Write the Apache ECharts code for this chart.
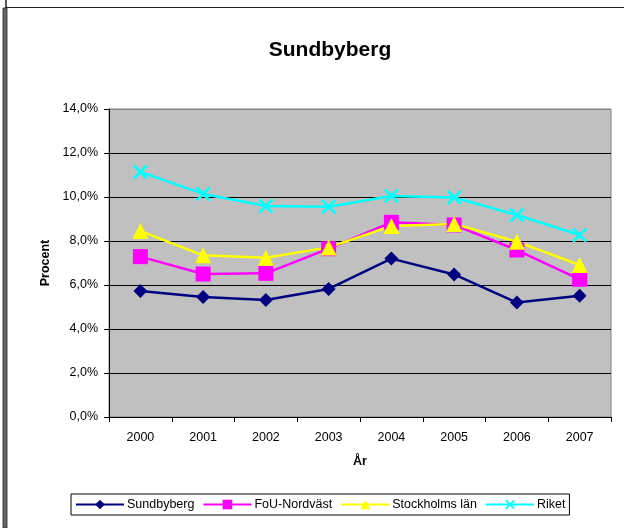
<!DOCTYPE html>
<html><head><meta charset="utf-8">
<script src="https://cdn.jsdelivr.net/npm/echarts@6/dist/echarts.min.js"></script>
<style>html,body{margin:0;padding:0;background:#fff}#c{width:624px;height:528px}</style>
</head><body><div id="c"></div>
<script>
const years = ['2000','2001','2002','2003','2004','2005','2006','2007'];
const sundbyberg = [5.73, 5.45, 5.32, 5.82, 7.2, 6.48, 5.2, 5.51];
const fouNordvast = [7.29, 6.5, 6.53, 7.65, 8.85, 8.73, 7.59, 6.26];
const stockholmsLan = [8.45, 7.35, 7.24, 7.71, 8.68, 8.77, 7.97, 6.91];
const riket = [11.14, 10.14, 9.59, 9.56, 10.05, 9.98, 9.18, 8.27];

const F = 'Liberation Sans, Arial, sans-serif';
const xPath = 'path://M0 1.5 L1.5 0 L6 4.5 L10.5 0 L12 1.5 L7.5 6 L12 10.5 L10.5 12 L6 7.5 L1.5 12 L0 10.5 L4.5 6 Z';
const chart = echarts.init(document.getElementById('c'));
function mk(name, data, color, symbol, size) {
  return {name, type:'line', data, color, symbol, symbolSize:size, showAllSymbol:true,
    lineStyle:{width:2.5, color}, itemStyle:{color}, animation:false, z:3};
}
chart.setOption({
  animation:false,
  title:{text:'Sundbyberg', left:325, top:35, textAlign:'center',
    textStyle:{fontFamily:F, fontSize:21, fontWeight:'bold', color:'#000'}},
  grid:{left:109, right:13, top:109, bottom:111, show:true, backgroundColor:'#C0C0C0', borderColor:'#808080', borderWidth:1},
  legend:{left:71, top:494, padding:[4,4,4,4], borderColor:'#000', borderWidth:1,
    itemWidth:48, itemHeight:12, itemGap:8,
    textStyle:{fontFamily:F, fontSize:12.5, color:'#000', padding:[0,0,0,-2]},
    data:['Sundbyberg','FoU-Nordväst','Stockholms län','Riket']},
  xAxis:{type:'category', data:years, boundaryGap:true,
    name:'År', nameLocation:'middle', nameGap:38,
    nameTextStyle:{fontFamily:F, fontSize:12.5, fontWeight:'bold', color:'#000'},
    axisLine:{lineStyle:{color:'#000', width:1}},
    axisTick:{show:true, length:5, lineStyle:{color:'#000'}},
    axisLabel:{fontFamily:F, fontSize:12.5, color:'#000', margin:14}},
  yAxis:{type:'value', min:0, max:14, interval:2,
    name:'Procent', nameLocation:'middle', nameGap:57, nameRotate:90,
    nameTextStyle:{fontFamily:F, fontSize:12.5, fontWeight:'bold', color:'#000'},
    axisLine:{show:true, lineStyle:{color:'#000', width:1}},
    axisTick:{show:true, length:5, lineStyle:{color:'#000'}},
    axisLabel:{fontFamily:F, fontSize:12.5, color:'#000', margin:11,
      formatter:v=>v.toFixed(1).replace('.',',')+'%'},
    splitLine:{show:true, lineStyle:{color:['#000','#000','#000','#000','#000','#000','#000','#808080'], width:1}}},
  series:[
    mk('Sundbyberg', sundbyberg, '#000080', 'diamond', 14),
    mk('FoU-Nordväst', fouNordvast, '#FF00FF', 'rect', 15),
    mk('Stockholms län', stockholmsLan, '#FFFF00', 'triangle', 16),
    mk('Riket', riket, '#00FFFF', xPath, 15)
  ],
  graphic:[
    {type:'line', shape:{x1:5, y1:7.5, x2:624, y2:7.5}, style:{stroke:'#222', lineWidth:1.2}},
    {type:'line', shape:{x1:6, y1:0, x2:6, y2:7}, style:{stroke:'#222', lineWidth:1.5}},
    {type:'rect', shape:{x:3, y:8, width:4, height:520}, style:{fill:'#666', stroke:'#222', lineWidth:0.8}}
  ]
});
</script></body></html>
